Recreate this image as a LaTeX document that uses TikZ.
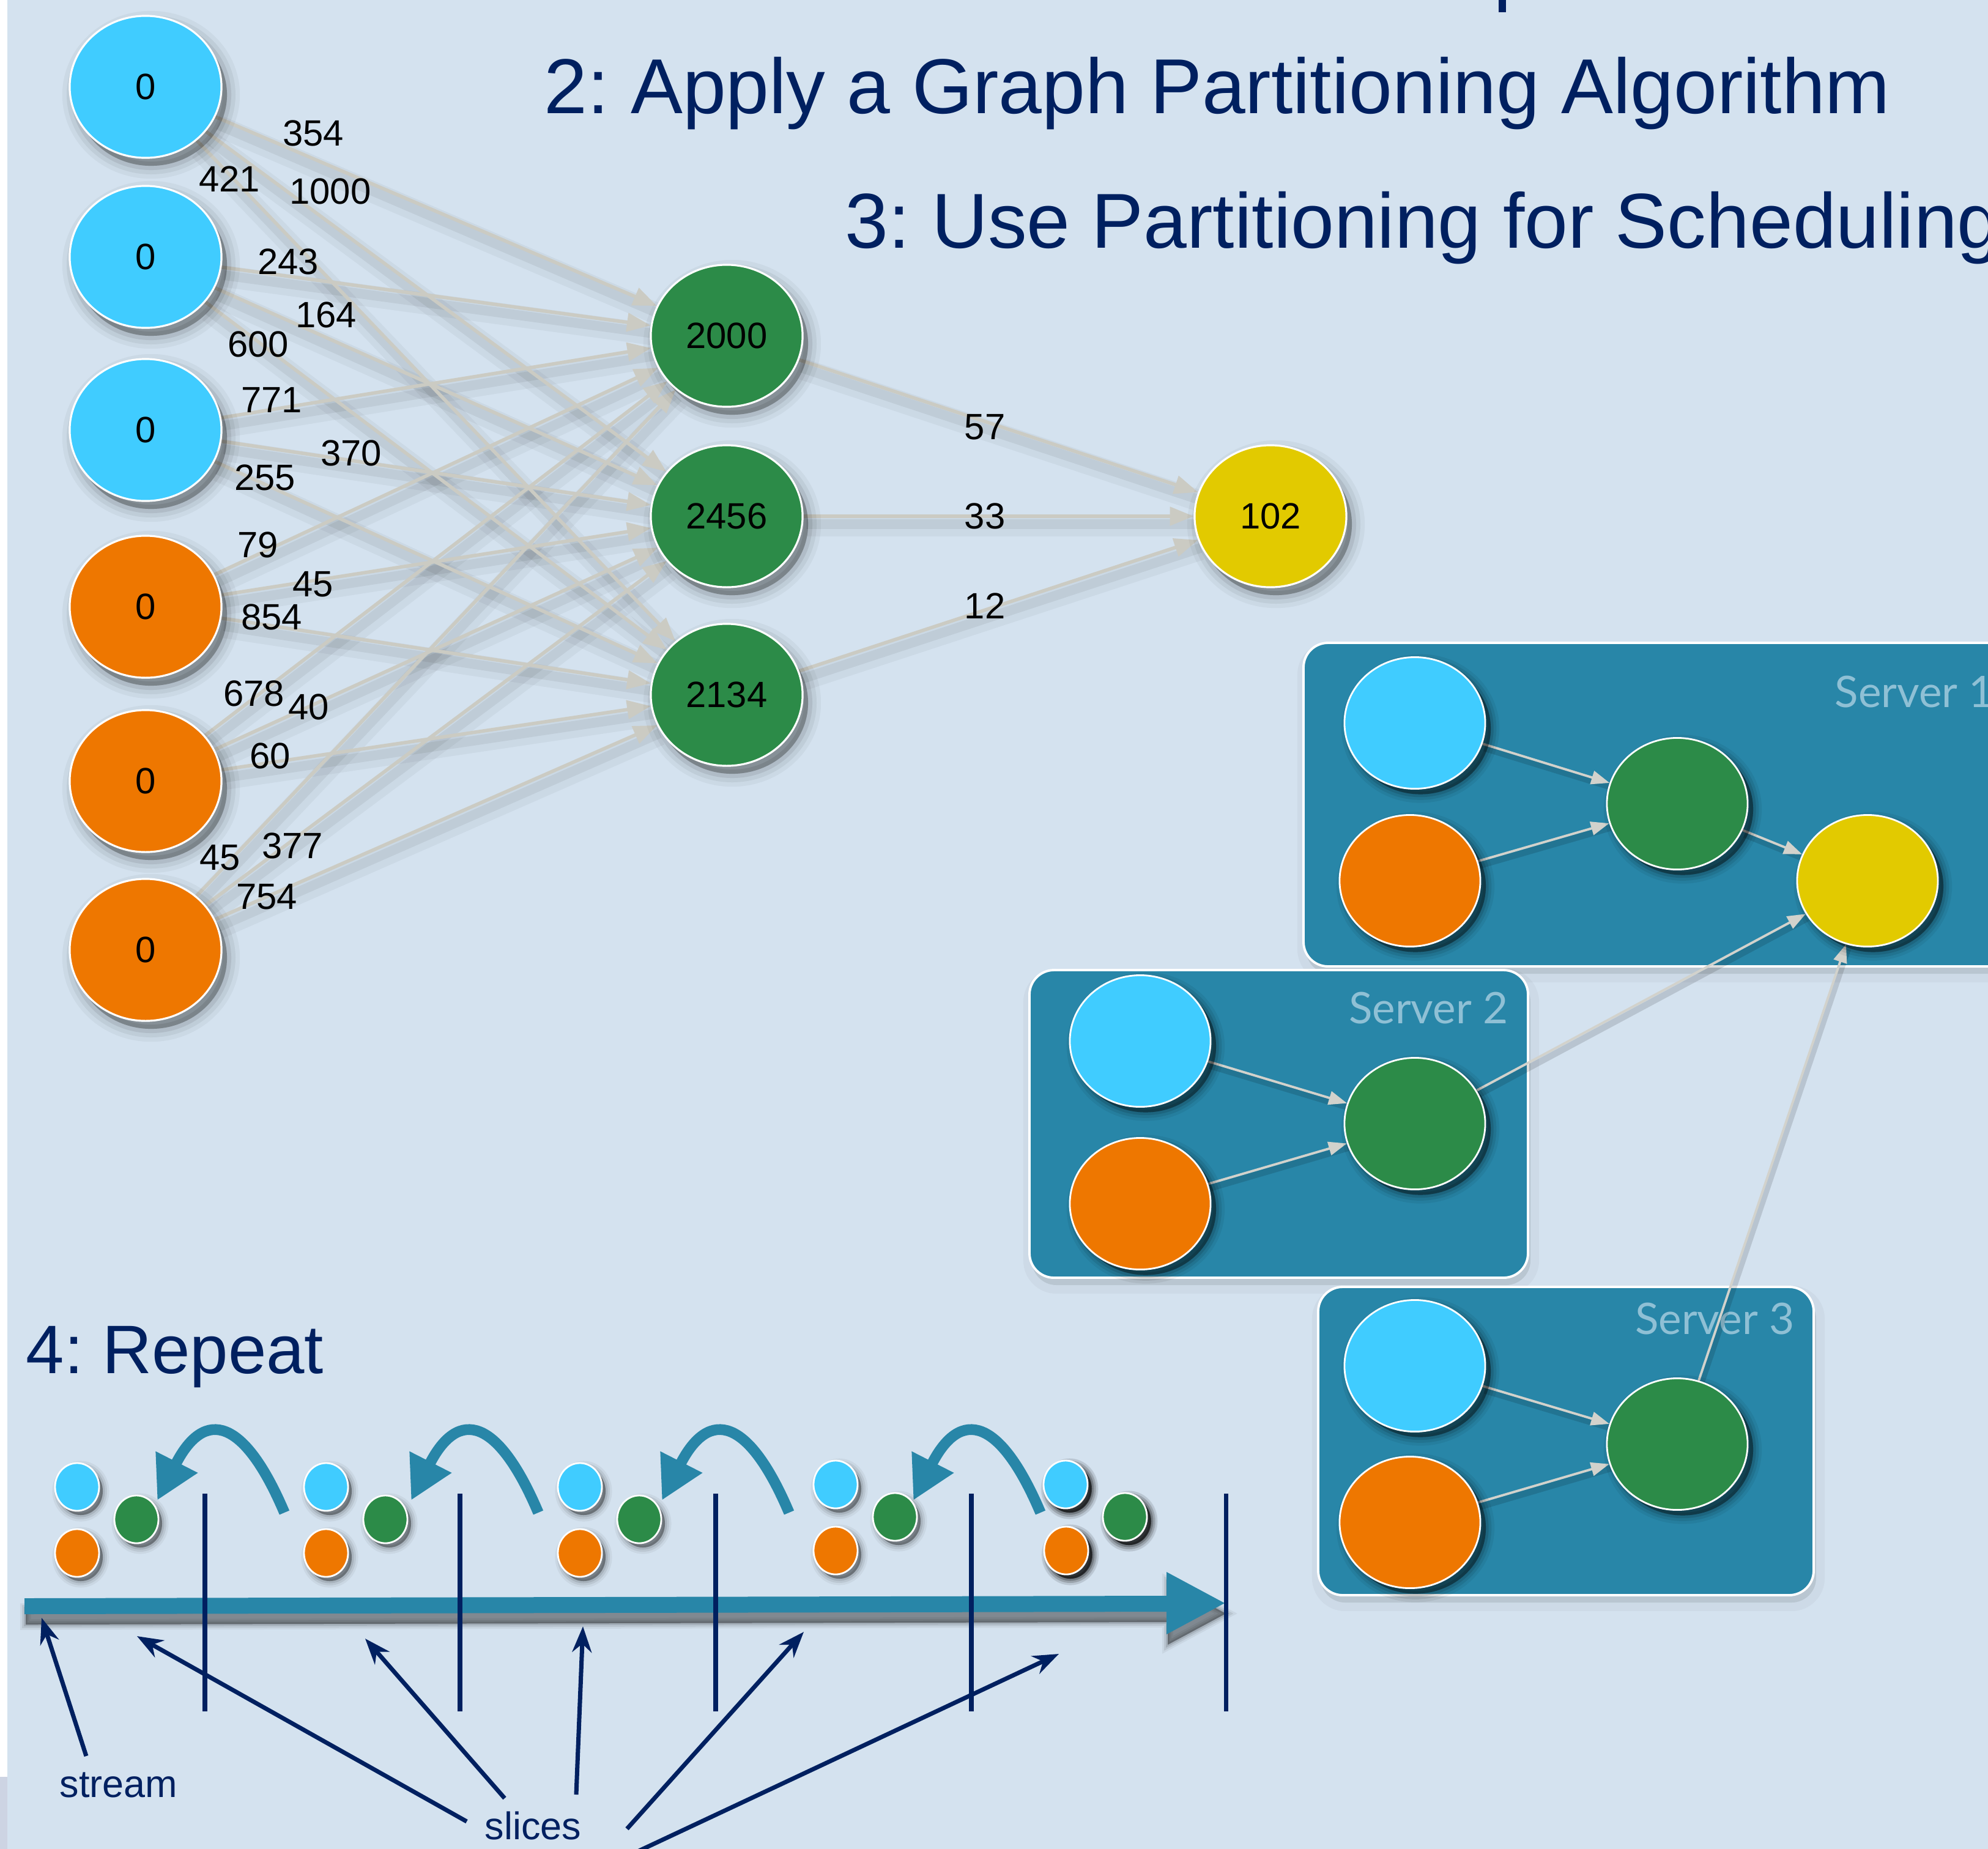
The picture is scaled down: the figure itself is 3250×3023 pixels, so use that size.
\documentclass[tikz,border=0pt]{standalone}
\usepackage{fontspec}
\setmainfont{Liberation Sans}
\newfontfamily\srvfont{Lato}
\usetikzlibrary{arrows.meta,shapes.geometric}
\pgfdeclarelayer{back}
\pgfdeclarelayer{edges}
\pgfsetlayers{back,edges,main}
\definecolor{bgc}{HTML}{D4E2EF}
\definecolor{cyanN}{HTML}{40CCFF}
\definecolor{orangeN}{HTML}{EE7700}
\definecolor{greenN}{HTML}{2C8B48}
\definecolor{yellowN}{HTML}{E2CA00}
\definecolor{tealN}{HTML}{2886A8}
\definecolor{navyN}{HTML}{002060}
\definecolor{edgegrey}{HTML}{CBCBC3}
\definecolor{srvedge}{HTML}{D2D2CC}
\definecolor{srvtext}{HTML}{8FC0D5}
\definecolor{stripgrey}{HTML}{CDD4E3}
\tikzset{
  softshadow/.style n args={4}{% xshift, yshift, blur width, strength
    preaction={fill=black, draw=black, line width=#3, opacity=0.022*#4,
      transform canvas={shift={(#1,#2)}}},
    preaction={fill=black, draw=black, line width=0.66*#3, opacity=0.032*#4,
      transform canvas={shift={(#1,#2)}}},
    preaction={fill=black, draw=black, line width=0.33*#3, opacity=0.045*#4,
      transform canvas={shift={(#1,#2)}}},
    preaction={fill=black, opacity=0.09*#4, transform canvas={shift={(#1,#2)}}}},
  bignode/.style={ellipse, draw=white, line width=0.9pt, minimum width=2.48cm, minimum height=2.32cm,
    inner sep=0pt, font=\fontsize{17}{20}\selectfont,
    softshadow={0.09cm}{-0.13cm}{12pt}{1.7}},
  srvnode/.style={ellipse, draw=white, line width=0.8pt, minimum width=2.30cm, minimum height=2.15cm,
    inner sep=0pt, softshadow={0.09cm}{-0.09cm}{8pt}{2.6}},
  smallnode/.style={ellipse, draw=white, line width=0.8pt, minimum width=0.72cm, minimum height=0.78cm,
    inner sep=0pt, softshadow={0.06cm}{-0.07cm}{6pt}{2.2}},
  darksmall/.style={softshadow={0.07cm}{-0.07cm}{6pt}{3.4}},
  wlabel/.style={font=\fontsize{17}{20}\selectfont, inner sep=0pt, text=black},
  title/.style={anchor=base west, inner sep=0pt, text=navyN, font=\fontsize{36.2}{40}\selectfont},
  srvlabel/.style={inner sep=0pt, text=srvtext, font=\srvfont\fontsize{20.2}{24}\selectfont},
  bigedge/.style={draw=edgegrey, line width=1.6pt, -{Triangle[length=11pt,width=8.5pt]}},
  bigshadowA/.style={draw=black, draw opacity=0.04, line width=10pt, transform canvas={shift={(0.05cm,-0.15cm)}}},
  bigshadowB/.style={draw=black, draw opacity=0.06, line width=4.5pt, transform canvas={shift={(0.04cm,-0.13cm)}}},
  srvedgestyle/.style={draw=srvedge, line width=1.1pt, -{Triangle[length=8.5pt,width=6.3pt]}},
  srvshadow/.style={draw=black, draw opacity=0.13, line width=3pt, transform canvas={shift={(0.03cm,-0.07cm)}}},
  boxstyle/.style={fill=tealN, draw=white, line width=1.1pt, rounded corners=0.4cm,
    preaction={fill=black, opacity=0.06, transform canvas={shift={(0.04cm,-0.12cm)}}},
    preaction={fill=black, draw=black, line width=8pt, opacity=0.03, transform canvas={shift={(0.04cm,-0.12cm)}}}},
  curvarrow/.style={draw=tealN, line width=5pt, -{Triangle[length=20pt,width=20.5pt]}},
  pointer/.style={draw=navyN, line width=2pt, -{Stealth[length=12pt,width=9pt]}},
  slicebar/.style={draw=navyN, line width=2pt},
  smalltext/.style={inner sep=0pt, text=navyN, font=\fontsize{17.9}{20}\selectfont, anchor=base west}
}
\begin{document}
\frenchspacing
\begin{tikzpicture}[x=0.01cm,y=-0.01cm]
\useasboundingbox (0,0) rectangle (3250,3023);
\begin{pgfonlayer}{back}
  \fill[bgc] (0,0) rectangle (3250,3023);
  \fill[white] (0,0) rectangle (12,2905);
  \fill[stripgrey] (0,2905) rectangle (12,3023);
  \fill[navyN] (2450,0) rectangle (2462,20);
  % server boxes
  \path[boxstyle] (2131,1051) rectangle (3290,1580);
  \path[boxstyle] (1683,1586) rectangle (2498,2089);
  \path[boxstyle] (2155,2104) rectangle (2965,2608);
  \node[srvlabel, anchor=base west] (sl1) at (2999,1156) {Server 1};
  \node[srvlabel, anchor=base east] (sl2) at (2466,1673) {Server 2};
  \node[srvlabel, anchor=base east] (sl3) at (2934,2181) {Server 3};
  % stream bar
  \path[fill=tealN, softshadow={0.02cm}{-0.17cm}{5pt}{2.4}]
    (40,2613) -- (1907,2609) -- (1907,2570) -- (2002,2621) -- (1907,2672) -- (1907,2635) -- (40,2639) -- cycle;
\end{pgfonlayer}

% titles
\node[title] (t2) at (889,185) {2: Apply a Graph Partitioning Algorithm};
\node[title] (t3) at (1381,405) {3: Use Partitioning for Scheduling};
\node[title, font=\fontsize{31.9}{36}\selectfont] (t4) at (42,2245) {4: Repeat};

% left graph nodes
\node[bignode, fill=cyanN] (l1) at (238,142) {0};
\node[bignode, fill=cyanN] (l2) at (238,420) {0};
\node[bignode, fill=cyanN] (l3) at (238,703) {0};
\node[bignode, fill=orangeN] (l4) at (238,992) {0};
\node[bignode, fill=orangeN] (l5) at (238,1277) {0};
\node[bignode, fill=orangeN] (l6) at (238,1553) {0};
\node[bignode, fill=greenN] (g1) at (1188,549) {2000};
\node[bignode, fill=greenN] (g2) at (1188,844) {2456};
\node[bignode, fill=greenN] (g3) at (1188,1136) {2134};
\node[bignode, fill=yellowN] (y1) at (2077,844) {102};

% edge labels
\node[wlabel] (w1) at (512,218) {354};
\node[wlabel] (w2) at (540,313) {1000};
\node[wlabel] (w3) at (375,293) {421};
\node[wlabel] (w4) at (471,428) {243};
\node[wlabel] (w5) at (533,515) {164};
\node[wlabel] (w6) at (422,563) {600};
\node[wlabel] (w7) at (444,654) {771};
\node[wlabel] (w8) at (574,741) {370};
\node[wlabel] (w9) at (433,781) {255};
\node[wlabel] (w10) at (422,891) {79};
\node[wlabel] (w11) at (512,955) {45};
\node[wlabel] (w12) at (444,1009) {854};
\node[wlabel] (w13) at (415,1134) {678};
\node[wlabel] (w14) at (505,1156) {40};
\node[wlabel] (w15) at (442,1236) {60};
\node[wlabel] (w16) at (360,1402) {45};
\node[wlabel] (w17) at (478,1383) {377};
\node[wlabel] (w18) at (436,1466) {754};
\node[wlabel] (w19) at (1610,698) {57};
\node[wlabel] (w20) at (1610,844) {33};
\node[wlabel] (w21) at (1610,991) {12};

% server nodes
\node[srvnode, fill=cyanN] (c1) at (2313,1182) {};
\node[srvnode, fill=orangeN] (o1) at (2305,1440) {};
\node[srvnode, fill=greenN] (gs1) at (2742,1314) {};
\node[srvnode, fill=yellowN] (ys1) at (3053,1440) {};
\node[srvnode, fill=cyanN] (c2) at (1864,1702) {};
\node[srvnode, fill=orangeN] (o2) at (1864,1968) {};
\node[srvnode, fill=greenN] (gs2) at (2313,1837) {};
\node[srvnode, fill=cyanN] (c3) at (2313,2233) {};
\node[srvnode, fill=orangeN] (o3) at (2305,2489) {};
\node[srvnode, fill=greenN] (gs3) at (2742,2361) {};

% small nodes of the stream
\foreach \x/\y [count=\i] in {126/0,533/0,948/0,1366/-4}{
  \node[smallnode, fill=cyanN] (sc\i) at (\x,2431+\y) {};
  \node[smallnode, fill=orangeN] (so\i) at (\x,2539+\y) {};
  \node[smallnode, fill=greenN] (sg\i) at (\x+97,2484+\y) {};
}
\node[smallnode, darksmall, fill=cyanN] (sc5) at (1742,2427) {};
\node[smallnode, darksmall, fill=orangeN] (so5) at (1743,2535) {};
\node[smallnode, darksmall, fill=greenN] (sg5) at (1839,2480) {};

% texts of the stream
\node[smalltext] (stream) at (97,2938) {stream};
\node[smalltext] (slices) at (792,3007) {slices};

\begin{pgfonlayer}{edges}
  % big graph edges
  \foreach \s in {l1,l2,l3,l4,l5,l6}{
    \foreach \t in {g1,g2,g3}{
      \draw[bigshadowA] (\s) -- (\t);
      \draw[bigshadowB] (\s) -- (\t);
    }
  }
  \foreach \s in {g1,g2,g3}{
    \draw[bigshadowA] (\s) -- (y1);
    \draw[bigshadowB] (\s) -- (y1);
  }
  \foreach \s in {l1,l2,l3,l4,l5,l6}{
    \foreach \t in {g1,g2,g3}{
      \draw[bigedge] (\s) -- (\t);
    }
  }
  \foreach \s in {g1,g2,g3}{
    \draw[bigedge] (\s) -- (y1);
  }
  % server edges
  \foreach \s/\t in {c1/gs1,o1/gs1,gs1/ys1,c2/gs2,o2/gs2,gs2/ys1,c3/gs3,o3/gs3,gs3/ys1}{
    \draw[srvshadow] (\s) -- (\t);
  }
  \foreach \s/\t in {c1/gs1,o1/gs1,gs1/ys1,c2/gs2,o2/gs2,gs2/ys1,c3/gs3,o3/gs3,gs3/ys1}{
    \draw[srvedgestyle] (\s) -- (\t);
  }
  % slice separators
  \foreach \x in {335,752,1170,1588,2004}{
    \draw[slicebar] (\x,2442) -- (\x,2798);
  }
  % curved arrows
  \foreach \dx in {0,415,825,1236}{
    \draw[curvarrow, shift={(\dx,0)}] (465,2473) .. controls (400,2320) and (335,2300) .. (257,2453);
  }
  % pointers
  \coordinate (sS) at (141,2871);
  \coordinate (pS) at (68,2645);
  \coordinate (sA) at (763,2978);
  \coordinate (pA) at (224,2675);
  \coordinate (sB) at (825,2940);
  \coordinate (pB) at (597,2679);
  \coordinate (sC) at (942,2934);
  \coordinate (pC) at (953,2659);
  \coordinate (sD) at (1025,2990);
  \coordinate (pD) at (1314,2668);
  \coordinate (sE) at (1036,3030);
  \coordinate (pE) at (1731,2704);
  \draw[pointer] (sS) -- (pS);
  \draw[pointer] (sA) -- (pA);
  \draw[pointer] (sB) -- (pB);
  \draw[pointer] (sC) -- (pC);
  \draw[pointer] (sD) -- (pD);
  \draw[pointer] (sE) -- (pE);
\end{pgfonlayer}
\end{tikzpicture}
\end{document}
